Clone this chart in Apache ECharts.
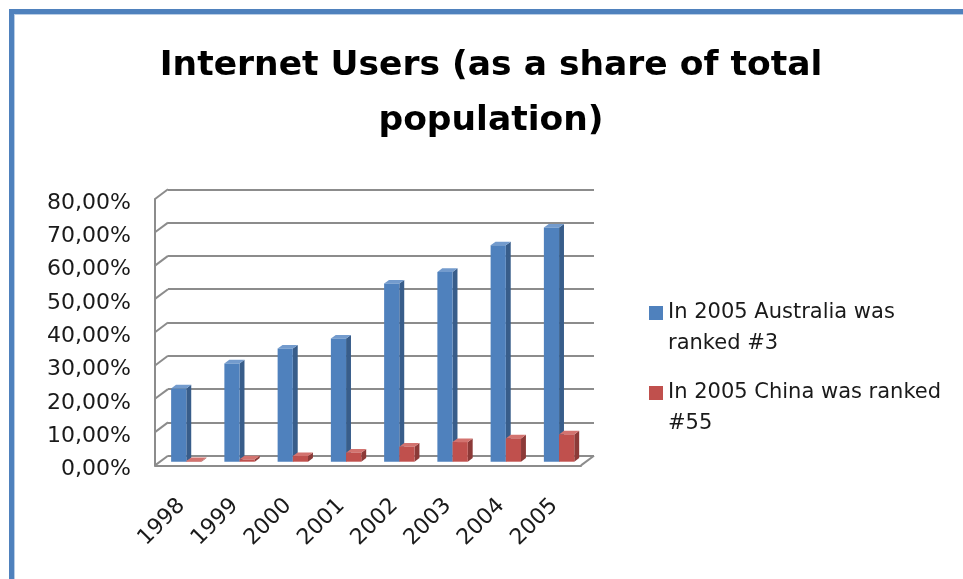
<!DOCTYPE html>
<html>
<head>
<meta charset="utf-8">
<script src="https://cdn.jsdelivr.net/npm/echarts@6/dist/echarts.min.js"></script>
<style>
  html, body { margin: 0; padding: 0; background: #ffffff; }
  #chart { width: 963px; height: 579px; }
</style>
</head>
<body>
<div id="chart"></div>
<script>
// Internet users as a share of total population, in percent
const years = ['1998', '1999', '2000', '2001', '2002', '2003', '2004', '2005'];
const australia = [22.0, 29.5, 34.0, 37.0, 53.5, 57.0, 65.0, 70.3];
const china = [0.2, 0.7, 1.7, 2.7, 4.5, 5.9, 7.0, 8.2];
const seriesNames = ['In 2005 Australia was ranked #3', 'In 2005 China was ranked #55'];
const legendLines = [['In 2005 Australia was', 'ranked #3'], ['In 2005 China was ranked', '#55']];
const yTickValues = [0, 10, 20, 30, 40, 50, 60, 70, 80];
const yTickLabels = ['0,00%', '10,00%', '20,00%', '30,00%', '40,00%', '50,00%', '60,00%', '70,00%', '80,00%'];

const FONT = 'DejaVu Sans';
const WALL = '#8c8c8c';
// depth of the 3D box: front plane sits left/down of the back wall
const DEPTH_X = -13, DEPTH_Y = 9.7;
// columns stand part-way between back wall and front edge
const COL_X = -8.3, COL_Y = 6;
const COL_W = 15.2, COL_DX = 4.9, COL_DY = -3.6;

const palettes = [
  { front: '#4F81BD', side: '#385D8A', top: '#739BCD' },
  { front: '#C0504D', side: '#8C3A38', top: '#D3736F' }
];

function columnRenderer(seriesIdx) {
  const pal = palettes[seriesIdx];
  return function (params, api) {
    const cat = api.value(0);
    const top = api.coord([cat, api.value(1)]);
    const base = api.coord([cat, 0]);
    const cx = top[0] + COL_X;
    const x0 = seriesIdx === 0 ? cx - COL_W : cx;
    const x1 = x0 + COL_W;
    const yt = top[1] + COL_Y;
    const yb = base[1] + COL_Y;
    return {
      type: 'group',
      children: [
        { type: 'polygon', shape: { points: [[x1, yt], [x1 + COL_DX, yt + COL_DY], [x1 + COL_DX, yb + COL_DY], [x1, yb]] },
          style: { fill: pal.side } },
        { type: 'polygon', shape: { points: [[x0, yt], [x1, yt], [x1 + COL_DX, yt + COL_DY], [x0 + COL_DX, yt + COL_DY]] },
          style: { fill: pal.top } },
        { type: 'rect', shape: { x: x0, y: yt, width: COL_W, height: yb - yt },
          style: { fill: pal.front } }
      ]
    };
  };
}

// diagonal edges of the left wall at every tick, plus the right edge of the floor
function wallRenderer(params, api) {
  const cs = params.coordSys;
  const v = api.value(0);
  const p = api.coord([0, v]);
  const children = [
    { type: 'line', shape: { x1: cs.x, y1: p[1], x2: cs.x + DEPTH_X, y2: p[1] + DEPTH_Y },
      style: { stroke: WALL, lineWidth: 2 } }
  ];
  if (v === 0) {
    children.push({ type: 'line',
      shape: { x1: cs.x + cs.width, y1: p[1], x2: cs.x + cs.width + DEPTH_X, y2: p[1] + DEPTH_Y },
      style: { stroke: WALL, lineWidth: 2 } });
  }
  return { type: 'group', children: children };
}

const chart = echarts.init(document.getElementById('chart'), null, { renderer: 'canvas' });

const backTop = 189.3, backH = 266.4, backLeft = 168, backW = 426;
const LABEL_DROP = 4;

chart.setOption({
  backgroundColor: '#ffffff',
  animation: false,
  textStyle: { fontFamily: FONT },
  graphic: [
    { type: 'rect', shape: { x: 9, y: 9, width: 960, height: 5 }, style: { fill: '#4F81BD' } },
    { type: 'rect', shape: { x: 14, y: 14, width: 960, height: 1 }, style: { fill: '#B9CDE5' } },
    { type: 'rect', shape: { x: 9, y: 9, width: 5, height: 580 }, style: { fill: '#4F81BD' } },
    { type: 'rect', shape: { x: 14, y: 14, width: 1, height: 580 }, style: { fill: '#B9CDE5' } }
  ],
  title: {
    text: 'Internet Users (as a share of total\npopulation)',
    left: 491,
    top: 39,
    textAlign: 'center',
    padding: 0,
    textStyle: { fontFamily: FONT, fontWeight: 'bold', fontSize: 34.5, lineHeight: 55, color: '#000000' }
  },
  legend: [0, 1].map(function (i) {
    return {
      data: [seriesNames[i]],
      orient: 'vertical',
      left: 649,
      top: i === 0 ? 266.5 : 346.5,
      padding: 0,
      itemWidth: 14,
      itemHeight: 14,
      itemGap: 8,
      icon: 'rect',
      selectedMode: false,
      // leading blank line keeps the first text line level with the swatch
      formatter: function () { return '\n' + legendLines[i].join('\n'); },
      textStyle: { fontFamily: FONT, fontSize: 21, lineHeight: 31, color: '#1a1a1a' }
    };
  }),
  grid: [
    { left: backLeft, top: backTop, width: backW, height: backH },
    { left: backLeft + DEPTH_X, top: backTop + DEPTH_Y, width: backW, height: backH },
    { left: backLeft + DEPTH_X, top: backTop + DEPTH_Y + LABEL_DROP, width: backW, height: backH }
  ],
  xAxis: [
    { type: 'category', gridIndex: 0, data: years, boundaryGap: true,
      axisLine: { show: false }, axisTick: { show: false }, axisLabel: { show: false } },
    { type: 'category', gridIndex: 1, data: years, boundaryGap: true,
      axisLine: { show: true, lineStyle: { color: WALL, width: 2 } },
      axisTick: { show: false },
      axisLabel: { rotate: 45, margin: 37, interval: 0, fontFamily: FONT, fontSize: 22, color: '#1a1a1a' } },
    { type: 'category', gridIndex: 2, data: years, show: false }
  ],
  yAxis: [
    { type: 'value', gridIndex: 0, min: 0, max: 80, interval: 10,
      axisLine: { show: false }, axisTick: { show: false }, axisLabel: { show: false },
      splitLine: { show: true, lineStyle: { color: WALL, width: 2 } } },
    { type: 'value', gridIndex: 1, min: 0, max: 80, interval: 10,
      axisLine: { show: true, lineStyle: { color: WALL, width: 2 } },
      axisTick: { show: false }, axisLabel: { show: false },
      splitLine: { show: false } },
    { type: 'value', gridIndex: 2, min: 0, max: 80, interval: 10,
      axisLine: { show: false }, axisTick: { show: false }, splitLine: { show: false },
      axisLabel: {
        margin: 24, fontFamily: FONT, fontSize: 22, color: '#1a1a1a',
        formatter: function (v) { return yTickLabels[yTickValues.indexOf(Math.round(v))]; }
      } }
  ],
  series: [
    { type: 'custom', name: 'wall', xAxisIndex: 0, yAxisIndex: 0, silent: true,
      renderItem: wallRenderer, data: yTickValues.map(function (v) { return [v]; }),
      encode: { x: -1, y: 0 }, z: 1 },
    { type: 'custom', name: seriesNames[0], xAxisIndex: 0, yAxisIndex: 0,
      itemStyle: { color: palettes[0].front },
      renderItem: columnRenderer(0), data: australia.map(function (v, i) { return [i, v]; }),
      encode: { x: 0, y: 1 }, z: 2 },
    { type: 'custom', name: seriesNames[1], xAxisIndex: 0, yAxisIndex: 0,
      itemStyle: { color: palettes[1].front },
      renderItem: columnRenderer(1), data: china.map(function (v, i) { return [i, v]; }),
      encode: { x: 0, y: 1 }, z: 3 }
  ]
});
</script>
</body>
</html>
